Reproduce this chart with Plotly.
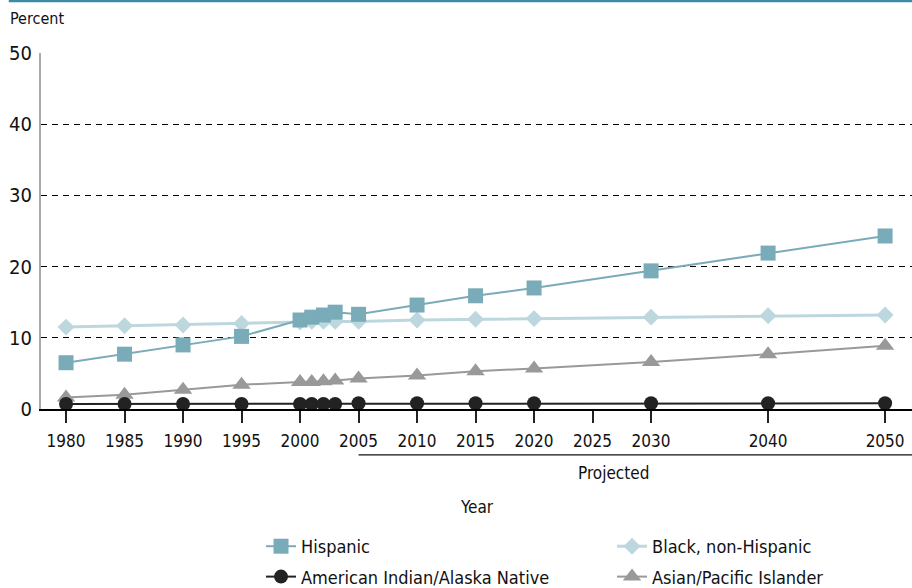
import plotly.graph_objects as go

years = [1980, 1985, 1990, 1995, 2000, 2001, 2002, 2003, 2005, 2010, 2015, 2020, 2030, 2040, 2050]
hispanic = [6.5, 7.7, 9.0, 10.2, 12.5, 12.9, 13.2, 13.6, 13.3, 14.6, 15.9, 17.0, 19.4, 21.9, 24.3]
black = [11.5, 11.7, 11.8, 12.0, 12.2, 12.3, 12.3, 12.3, 12.3, 12.5, 12.6, 12.7, 12.9, 13.1, 13.2]
aian = [0.7, 0.7, 0.7, 0.7, 0.7, 0.7, 0.7, 0.7, 0.8, 0.8, 0.8, 0.8, 0.8, 0.8, 0.8]
asian = [1.6, 2.0, 2.7, 3.4, 3.8, 3.8, 3.9, 4.0, 4.3, 4.7, 5.3, 5.7, 6.6, 7.7, 8.9]

tick_years = [1980, 1985, 1990, 1995, 2000, 2005, 2010, 2015, 2020, 2025, 2030, 2040, 2050]
tick_text = [str(y) for y in tick_years]
y_ticks = [0, 10, 20, 30, 40, 50]

FONT = "Liberation Sans Narrow, DejaVu Sans Condensed, Liberation Sans, Arial, sans-serif"

fig = go.Figure()
fig.add_trace(go.Scatter(x=years, y=black, name="Black, non-Hispanic", mode="lines+markers",
                         line=dict(color="#bdd7de", width=3),
                         marker=dict(symbol="diamond", size=13, color="#bdd7de"),
                         legend="legend2", legendgroup="b", legendrank=1))
fig.add_trace(go.Scatter(x=years, y=asian, name="Asian/Pacific Islander", mode="lines+markers",
                         line=dict(color="#999999", width=2),
                         marker=dict(symbol="triangle-up", size=16, color="#999999"),
                         legend="legend2", legendgroup="d", legendrank=2))
fig.add_trace(go.Scatter(x=years, y=aian, name="American Indian/Alaska Native", mode="lines+markers",
                         line=dict(color="#222222", width=2),
                         marker=dict(symbol="circle", size=14, color="#222222"),
                         legend="legend", legendgroup="c", legendrank=2))
fig.add_trace(go.Scatter(x=years, y=hispanic, name="Hispanic", mode="lines+markers",
                         line=dict(color="#7aabb8", width=2),
                         marker=dict(symbol="square", size=15, color="#7aabb8"),
                         legend="legend", legendgroup="a", legendrank=1))

leg_common = dict(orientation="v", yanchor="top", y=-0.3343, xanchor="left",
                  font=dict(size=18, color="#111111"), traceorder="grouped",
                  tracegroupgap=4, bgcolor="rgba(0,0,0,0)")

fig.update_layout(
    width=912, height=588,
    margin=dict(l=41, r=0, t=53, b=179, autoexpand=False),
    paper_bgcolor="white", plot_bgcolor="white",
    font=dict(family=FONT, size=18, color="#111111"),
    showlegend=True,
    legend=dict(x=0.2526, **leg_common),
    legend2=dict(x=0.6556, **leg_common),
    xaxis=dict(range=[1977.86, 2052.3], tickmode="array", tickvals=tick_years, ticktext=tick_text,
               showgrid=False, zeroline=False, showline=True, linecolor="#000000", linewidth=2,
               ticks="outside", ticklen=12, tickwidth=1.5, tickcolor="#222222",
               tickfont=dict(size=17), ticklabelstandoff=4, fixedrange=True),
    yaxis=dict(range=[0, 50], tickvals=y_ticks, showgrid=True, gridcolor="#000000", gridwidth=1,
               griddash="6px,5px", zeroline=False, showline=True, linecolor="#aaaaaa", linewidth=2,
               ticks="", tickfont=dict(size=20), ticklabelstandoff=3, fixedrange=True),
    shapes=[
        dict(type="line", xref="paper", yref="paper", x0=-0.037, x1=1.0, y0=1.146, y1=1.146,
             line=dict(color="#3d8aa6", width=2.5)),
        dict(type="line", xref="x", yref="paper", x0=2005, x1=2052.3, y0=-0.129, y1=-0.129,
             line=dict(color="#111111", width=1.2)),
    ],
    annotations=[
        dict(text="Percent", xref="paper", yref="paper", x=-0.0375, y=1.098, xanchor="left",
             yanchor="middle", showarrow=False, font=dict(size=16)),
        dict(text="Projected", xref="x", yref="paper", x=2026.8, y=-0.18, xanchor="center",
             yanchor="middle", showarrow=False, font=dict(size=17)),
        dict(text="Year", xref="paper", yref="paper", x=0.5, y=-0.275, xanchor="center",
             yanchor="middle", showarrow=False, font=dict(size=17)),
    ],
)

fig.write_html("out.html", config={"displayModeBar": False},
               post_script="document.body.style.margin='0';")
